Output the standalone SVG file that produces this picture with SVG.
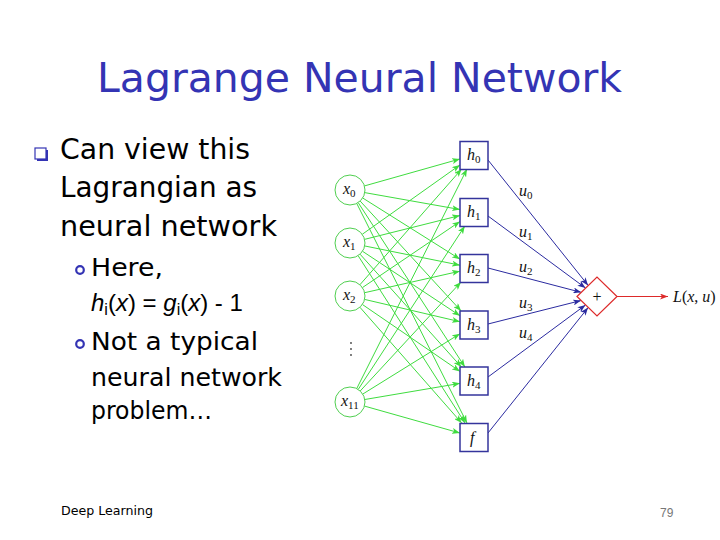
<svg xmlns="http://www.w3.org/2000/svg" width="720" height="540" viewBox="0 0 720 540">
<style>
.title{font-family:"Comic Sans MS","DejaVu Sans",sans-serif;font-size:40px;fill:#3434b4}
.body{font-family:"Comic Sans MS","DejaVu Sans",sans-serif;fill:#000}
.b1{font-size:28px}
.b2{font-size:24px}
.math{font-family:"Liberation Sans",Arial,sans-serif;font-size:24px;fill:#000}
.foot{font-family:"Comic Sans MS","DejaVu Sans",sans-serif;font-size:13px;fill:#000}
.num{font-family:"Liberation Sans",Arial,sans-serif;font-size:12px;fill:#777}
.lbl{font-family:"Liberation Serif","Times New Roman",serif;font-size:16px;fill:#111}
.it{font-style:italic}
.sub{font-size:11px}
.circ{fill:#fff;stroke:#4fcf4f;stroke-width:1}
.box{fill:#fff;stroke:#34349c;stroke-width:1.5}
.g{stroke:#3fdc3f;stroke-width:1;fill:none}
.bl{stroke:#2b2ba0;stroke-width:1;fill:none}
.rd{stroke:#dd2a2a;stroke-width:1.2;fill:none}
.ob{fill:none;stroke:#3434b4;stroke-width:2.2}
</style>
<defs>
<marker id="ag" viewBox="0 0 8 6" refX="8" refY="3" markerWidth="8" markerHeight="6" markerUnits="userSpaceOnUse" orient="auto"><path d="M0,0 L8,3 L0,6 L2,3 Z" fill="#3fdc3f"/></marker>
<marker id="ab" viewBox="0 0 8 6" refX="8" refY="3" markerWidth="8" markerHeight="6" markerUnits="userSpaceOnUse" orient="auto"><path d="M0,0 L8,3 L0,6 L2,3 Z" fill="#2b2ba0"/></marker>
<marker id="ar" viewBox="0 0 8 6" refX="8" refY="3" markerWidth="8" markerHeight="6" markerUnits="userSpaceOnUse" orient="auto"><path d="M0,0 L8,3 L0,6 L2,3 Z" fill="#dd2a2a"/></marker>
</defs>

<g id="title"><text class="title" x="97" y="92" textLength="525" lengthAdjust="spacingAndGlyphs">Lagrange Neural Network</text></g>

<g id="bullets">
<rect x="37" y="150" width="11" height="11" fill="#3434b4"/>
<rect x="35" y="148" width="11" height="11" fill="#fff" stroke="#3434b4" stroke-width="1.2"/>
<text class="body b1" x="60" y="159" textLength="190" lengthAdjust="spacingAndGlyphs">Can view this</text>
<text class="body b1" x="60" y="197" textLength="197" lengthAdjust="spacingAndGlyphs">Lagrangian as</text>
<text class="body b1" x="60" y="236" textLength="217" lengthAdjust="spacingAndGlyphs">neural network</text>
<circle class="ob" cx="80" cy="270" r="3.8"/>
<text class="body b2" x="91" y="276" textLength="72" lengthAdjust="spacingAndGlyphs">Here,</text>
<text class="math" x="91" y="311"><tspan class="it">h</tspan><tspan font-size="16" dy="4">i</tspan><tspan dy="-4">(</tspan><tspan class="it">x</tspan><tspan>) = </tspan><tspan class="it">g</tspan><tspan font-size="16" dy="4">i</tspan><tspan dy="-4">(</tspan><tspan class="it">x</tspan><tspan>) - 1</tspan></text>
<circle class="ob" cx="80" cy="344" r="3.8"/>
<text class="body b2" x="91" y="350" textLength="167" lengthAdjust="spacingAndGlyphs">Not a typical</text>
<text class="body b2" x="91" y="386" textLength="191" lengthAdjust="spacingAndGlyphs">neural network</text>
<text class="body b2" x="91" y="419" textLength="121" lengthAdjust="spacingAndGlyphs">problem…</text>
</g>

<g id="connectors">
<line class="g" marker-end="url(#ag)" x1="364.44" y1="185.93" x2="460" y2="158.95"/>
<line class="g" marker-end="url(#ag)" x1="364.77" y1="192.62" x2="460" y2="209.52"/>
<line class="g" marker-end="url(#ag)" x1="362.70" y1="197.99" x2="460" y2="259.19"/>
<line class="g" marker-end="url(#ag)" x1="360.15" y1="201.05" x2="461.14" y2="311"/>
<line class="g" marker-end="url(#ag)" x1="358.17" y1="202.58" x2="464.91" y2="367"/>
<line class="g" marker-end="url(#ag)" x1="356.73" y1="203.41" x2="466.97" y2="423"/>

<line class="g" marker-end="url(#ag)" x1="362.23" y1="234.32" x2="460" y2="164.94"/>
<line class="g" marker-end="url(#ag)" x1="364.55" y1="239.36" x2="460" y2="215.50"/>
<line class="g" marker-end="url(#ag)" x1="364.70" y1="245.96" x2="460" y2="265.18"/>
<line class="g" marker-end="url(#ag)" x1="362.51" y1="251.27" x2="460" y2="315.74"/>
<line class="g" marker-end="url(#ag)" x1="360.03" y1="254.16" x2="461.42" y2="367"/>
<line class="g" marker-end="url(#ag)" x1="358.08" y1="255.64" x2="465.05" y2="423"/>

<line class="g" marker-end="url(#ag)" x1="359.91" y1="284.74" x2="461.69" y2="169"/>
<line class="g" marker-end="url(#ag)" x1="362.42" y1="287.59" x2="460" y2="221.48"/>
<line class="g" marker-end="url(#ag)" x1="364.63" y1="292.70" x2="460" y2="271.16"/>
<line class="g" marker-end="url(#ag)" x1="364.61" y1="299.42" x2="460" y2="321.73"/>
<line class="g" marker-end="url(#ag)" x1="362.37" y1="304.48" x2="460" y2="371.40"/>
<line class="g" marker-end="url(#ag)" x1="359.91" y1="307.26" x2="461.69" y2="423"/>

<line class="g" marker-end="url(#ag)" x1="356.73" y1="388.59" x2="466.97" y2="169"/>
<line class="g" marker-end="url(#ag)" x1="358.20" y1="389.44" x2="464.86" y2="226"/>
<line class="g" marker-end="url(#ag)" x1="360.19" y1="390.99" x2="461.04" y2="282"/>
<line class="g" marker-end="url(#ag)" x1="362.74" y1="394.09" x2="460" y2="333.69"/>
<line class="g" marker-end="url(#ag)" x1="364.79" y1="399.50" x2="460" y2="383.37"/>
<line class="g" marker-end="url(#ag)" x1="364.44" y1="406.07" x2="460" y2="433.05"/>

<line class="bl" marker-end="url(#ab)" x1="488" y1="160" x2="588.12" y2="285.38"/>
<line class="bl" marker-end="url(#ab)" x1="488" y1="216" x2="585.50" y2="288"/>
<line class="bl" marker-end="url(#ab)" x1="488" y1="268" x2="581.15" y2="292.35"/>
<line class="bl" marker-end="url(#ab)" x1="488" y1="324" x2="581.03" y2="300.53"/>
<line class="bl" marker-end="url(#ab)" x1="488" y1="377" x2="585.50" y2="305"/>
<line class="bl" marker-end="url(#ab)" x1="488" y1="433" x2="588.12" y2="307.62"/>

<line class="rd" marker-end="url(#ar)" x1="617" y1="296.5" x2="668" y2="296.5"/>

<text class="lbl" x="519" y="196"><tspan class="it">u</tspan><tspan class="sub" dy="3">0</tspan></text>
<text class="lbl" x="519" y="237"><tspan class="it">u</tspan><tspan class="sub" dy="3">1</tspan></text>
<text class="lbl" x="519" y="272"><tspan class="it">u</tspan><tspan class="sub" dy="3">2</tspan></text>
<text class="lbl" x="519" y="308"><tspan class="it">u</tspan><tspan class="sub" dy="3">3</tspan></text>
<text class="lbl" x="519" y="338"><tspan class="it">u</tspan><tspan class="sub" dy="3">4</tspan></text>
</g>

<g id="x0"><circle class="circ" cx="350" cy="190" r="15"/><text class="lbl" x="343" y="194"><tspan class="it">x</tspan><tspan class="sub" dy="3">0</tspan></text></g>
<g id="x1"><circle class="circ" cx="350" cy="243" r="15"/><text class="lbl" x="343" y="247"><tspan class="it">x</tspan><tspan class="sub" dy="3">1</tspan></text></g>
<g id="x2"><circle class="circ" cx="350" cy="296" r="15"/><text class="lbl" x="343" y="300"><tspan class="it">x</tspan><tspan class="sub" dy="3">2</tspan></text></g>
<g id="dots"><circle cx="351" cy="343" r="0.9" fill="#444"/><circle cx="351" cy="349" r="0.9" fill="#444"/><circle cx="351" cy="355" r="0.9" fill="#444"/></g>
<g id="x11"><circle class="circ" cx="350" cy="402" r="15"/><text class="lbl" x="341" y="406"><tspan class="it">x</tspan><tspan class="sub" dy="3">11</tspan></text></g>

<g id="h0"><rect class="box" x="460" y="141.5" width="28" height="28"/><text class="lbl" x="467" y="160"><tspan class="it">h</tspan><tspan class="sub" dy="3">0</tspan></text></g>
<g id="h1"><rect class="box" x="460" y="198.5" width="28" height="28"/><text class="lbl" x="467" y="217"><tspan class="it">h</tspan><tspan class="sub" dy="3">1</tspan></text></g>
<g id="h2"><rect class="box" x="460" y="254.5" width="28" height="28"/><text class="lbl" x="467" y="273"><tspan class="it">h</tspan><tspan class="sub" dy="3">2</tspan></text></g>
<g id="h3"><rect class="box" x="460" y="311" width="28" height="28"/><text class="lbl" x="467" y="330"><tspan class="it">h</tspan><tspan class="sub" dy="3">3</tspan></text></g>
<g id="h4"><rect class="box" x="460" y="367" width="28" height="28"/><text class="lbl" x="467" y="386"><tspan class="it">h</tspan><tspan class="sub" dy="3">4</tspan></text></g>
<g id="f"><rect class="box" x="460" y="423.5" width="28" height="28"/><text class="lbl it" x="470" y="443">f</text></g>

<g id="sum"><path d="M577,296.5 L597,277 L617,296.5 L597,316 Z" fill="#fff" stroke="#dd2a2a" stroke-width="1.2"/><text class="lbl" x="597" y="301.5" text-anchor="middle">+</text></g>
<g id="L"><text class="lbl" x="673" y="302"><tspan class="it">L</tspan>(<tspan class="it">x</tspan>, <tspan class="it">u</tspan>)</text></g>

<g id="footer">
<text class="foot" x="61" y="515" textLength="92" lengthAdjust="spacingAndGlyphs">Deep Learning</text>
<text class="num" x="660" y="517">79</text>
</g>
</svg>
